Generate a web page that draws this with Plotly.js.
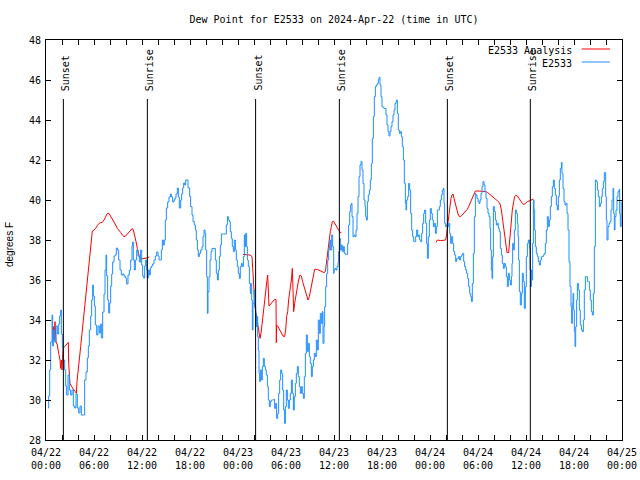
<!DOCTYPE html>
<html>
<head>
<meta charset="utf-8">
<script src="https://cdn.plot.ly/plotly-3.0.1.min.js"></script>
<style>html,body{margin:0;padding:0;background:#fff;}#chart{width:640px;height:480px;}</style>
</head>
<body>
<div id="chart"></div>
<script>
// ---- data (hours after 2024-04-22 00:00 UTC, dew point in degrees F) ----
const obsHours = [0.25,0.333,0.458,0.583,0.75,0.833,0.917,1.083,1.25,1.417,1.583,1.708,1.833,1.917,2.042,2.167,2.333,2.458,2.583,2.75,2.917,3.083,3.25,3.417,3.583,3.75,3.917,4.083,4.25,4.417,4.75,4.833,5.0,5.167,5.292,5.417,5.583,5.708,5.833,5.917,6.042,6.167,6.333,6.5,6.667,6.833,6.917,7.083,7.25,7.375,7.5,7.583,7.708,7.833,7.958,8.083,8.208,8.333,8.5,8.667,8.792,8.917,9.083,9.25,9.417,9.583,9.75,9.917,10.083,10.25,10.417,10.583,10.75,10.833,10.917,11.042,11.167,11.333,11.5,11.667,11.833,11.958,12.083,12.208,12.333,12.458,12.583,12.667,12.792,12.917,13.042,13.167,13.333,13.5,13.667,13.833,14.0,14.125,14.292,14.417,14.542,14.667,14.792,14.917,15.042,15.208,15.375,15.542,15.667,15.833,16.0,16.125,16.25,16.417,16.542,16.667,16.833,16.958,17.083,17.208,17.333,17.458,17.625,17.75,
17.96,18.08,18.25,18.375,18.54,18.67,18.79,18.92,19.04,19.17,19.33,19.5,19.625,19.75,19.875,19.96,20.08,20.17,20.25,20.375,20.5,20.625,20.75,21.0,21.17,21.29,21.42,21.54,21.67,21.79,21.92,22.17,22.42,22.54,22.67,22.79,22.92,23.04,23.17,23.29,23.42,23.54,23.67,23.79,23.92,24.04,24.17,24.29,24.42,24.54,24.67,24.79,24.875,24.96,25.08,25.17,25.29,25.42,25.54,25.625,25.71,25.79,25.875,26.0,26.08,26.21,26.29,26.375,26.46,26.54,26.625,26.71,26.79,26.92,27.04,27.17,27.29,27.42,27.54,27.67,27.79,27.92,28.04,28.17,28.33,28.46,28.58,28.71,28.83,28.96,29.08,29.21,29.33,29.46,29.58,29.71,29.83,29.92,30.04,30.17,30.29,30.42,30.54,30.67,30.79,30.92,31.04,31.17,31.29,31.42,31.54,31.67,31.79,31.92,32.04,32.17,32.29,32.42,32.54,32.67,32.79,32.92,33.04,33.17,33.29,33.42,33.54,33.67,33.79,33.92,34.04,34.17,34.29,34.42,34.54,34.625,34.75,34.83,34.96,35.08,35.21,35.33,35.46,35.58,35.71,35.83,35.96,
36.0,36.125,36.25,36.375,36.5,36.58,36.71,36.79,36.92,37.04,37.17,37.29,37.42,37.58,37.71,37.83,37.96,38.08,38.17,38.25,38.375,38.5,38.625,38.75,38.875,39.0,39.125,39.25,39.375,39.5,39.625,39.75,39.875,39.96,40.04,40.17,40.29,40.42,40.54,40.67,40.79,40.92,41.04,41.17,41.29,41.42,41.54,41.625,41.75,41.875,42.0,42.125,42.25,42.375,42.5,42.625,42.75,42.875,43.0,43.125,43.25,43.375,43.5,43.625,43.75,43.83,43.92,44.04,44.17,44.29,44.42,44.54,44.67,44.79,44.92,45.0,45.08,45.21,45.33,45.46,45.58,45.71,45.83,45.96,46.08,46.21,46.33,46.46,46.58,46.71,46.83,46.96,47.08,47.21,47.33,47.46,47.58,47.67,47.79,47.92,48.04,48.17,48.29,48.42,48.54,48.67,48.79,48.92,49.04,49.17,49.29,49.42,49.54,49.67,49.75,49.83,49.96,50.08,50.21,50.33,50.46,50.58,50.71,50.83,50.96,51.08,51.21,51.33,51.46,51.58,51.71,51.83,51.96,52.08,52.21,52.33,52.46,52.58,52.71,52.83,52.96,53.08,53.17,53.29,53.42,53.54,53.67,
53.75,53.875,54.0,54.125,54.25,54.375,54.5,54.625,54.75,54.875,55.0,55.125,55.25,55.375,55.5,55.58,55.67,55.75,55.83,55.92,56.04,56.17,56.29,56.42,56.54,56.67,56.79,56.92,57.04,57.17,57.29,57.42,57.54,57.67,57.79,57.92,58.04,58.17,58.25,58.33,58.46,58.54,58.67,58.79,58.92,59.0,59.08,59.17,59.29,59.42,59.54,59.67,59.79,59.92,60.04,60.17,60.29,60.42,60.5,60.58,60.67,60.75,60.83,60.92,61.0,61.08,61.17,61.29,61.42,61.54,61.67,61.79,61.92,62.04,62.17,62.29,62.42,62.54,62.67,62.79,62.92,63.04,63.17,63.29,63.42,63.54,63.67,63.79,63.92,64.04,64.17,64.29,64.42,64.5,64.625,64.75,64.875,65.0,65.125,65.25,65.375,65.5,65.625,65.71,65.79,65.875,65.96,66.04,66.125,66.21,66.33,66.42,66.54,66.67,66.79,66.92,67.04,67.17,67.29,67.42,67.54,67.67,67.79,67.92,68.04,68.17,68.29,68.42,68.54,68.67,68.79,68.92,69.04,69.17,69.29,69.42,69.54,69.67,69.79,69.88,69.96,70.04,70.125,70.25,70.375,70.5,70.625,70.75,70.875,70.96,71.04,71.125,71.25,71.375,71.5,71.625,71.71,71.79,71.9];
const obsDewF = [29.6,30.2,31.5,32.9,34.25,32.7,33.5,32.9,33.7,33.3,33.8,34.2,34.5,33.3,32.6,32.0,31.5,30.7,30.25,31.25,30.5,30.25,30.5,29.7,29.6,30.3,29.6,29.35,29.7,29.25,29.25,31.0,31.4,32.1,32.7,33.5,34.2,35.0,35.75,35.2,34.7,33.75,33.25,33.7,33.35,33.8,33.1,34.4,35.3,36.5,37.25,36.2,35.0,34.35,34.85,35.7,36.3,36.9,37.2,37.25,37.6,37.5,37.0,36.5,36.25,36.3,36.2,36.1,35.8,36.25,36.5,37.0,37.7,37.9,37.0,36.5,37.0,37.5,37.2,36.9,37.5,36.75,36.2,36.1,36.7,37.0,36.5,36.1,36.5,36.25,36.6,36.7,36.8,37.0,37.2,37.4,37.2,37.0,37.0,37.5,38.0,37.75,38.0,39.0,39.6,39.9,40.15,40.3,40.15,39.9,40.0,40.1,40.3,40.6,40.15,39.6,40.0,40.3,40.6,40.85,40.75,41.0,41.0,40.6,
40.17,39.67,39.25,38.92,38.75,38.5,38.0,37.5,37.17,37.33,37.5,37.67,38.17,38.5,38.33,37.5,36.17,34.33,35.42,36.17,37.0,37.42,37.58,37.58,37.0,36.33,36.0,36.5,37.17,37.75,38.3,38.3,38.3,38.75,39.17,39.0,38.92,38.42,38.08,37.67,37.42,38.0,37.5,37.0,36.67,36.33,36.08,36.67,36.83,36.67,37.17,38.25,37.67,38.33,37.67,37.0,36.67,35.83,35.33,35.83,35.0,33.5,34.83,35.5,34.67,34.33,33.67,34.17,33.17,32.5,31.33,30.92,31.5,31.0,31.67,32.08,31.67,31.5,31.25,30.67,30.0,29.67,29.92,30.0,30.0,30.03,29.58,29.83,29.08,29.33,30.33,31.0,31.5,31.33,30.5,29.5,28.83,29.67,30.5,30.0,29.58,30.0,30.33,31.0,30.33,29.5,30.17,30.83,31.33,31.67,31.17,30.67,30.33,30.67,30.33,30.08,31.17,32.33,33.25,32.42,32.83,32.17,31.83,31.17,31.67,32.0,32.33,32.17,33.0,32.5,34.0,33.33,34.33,33.83,34.42,32.83,33.67,34.67,35.67,36.33,37.0,37.5,38.0,37.5,38.25,37.67,36.33,
36.5,36.58,36.5,36.67,36.87,37.42,38.08,37.5,37.75,37.42,37.67,37.33,37.28,37.28,37.83,38.75,39.42,39.75,39.83,39.17,38.17,38.25,38.17,38.5,39.33,40.17,41.17,41.75,41.92,41.5,40.83,40.0,39.67,39.17,39.0,39.92,40.25,40.5,41.0,41.83,43.08,44.17,45.17,45.67,45.75,45.83,46.0,46.13,45.75,45.17,44.67,44.62,44.58,44.58,44.25,43.75,43.42,43.2,43.42,43.67,43.92,44.25,44.5,44.83,44.92,45.0,44.33,43.5,43.33,43.42,43.17,42.67,42.0,40.83,39.83,39.5,40.0,40.17,40.83,40.5,39.33,38.5,38.17,37.92,37.92,38.17,38.5,38.17,38.25,38.0,37.92,38.33,38.83,39.33,39.5,38.83,37.83,37.08,38.17,39.0,39.58,39.33,39.0,38.67,38.83,38.33,38.67,39.5,39.5,39.67,40.0,40.25,40.5,40.58,39.83,38.83,38.67,38.75,38.67,38.83,38.33,37.83,38.17,37.83,37.42,37.25,36.92,37.08,37.08,37.17,37.0,37.17,37.25,37.33,36.92,36.67,36.5,36.33,36.08,35.67,35.33,35.17,34.92,35.83,37.33,39.17,40.33,
40.25,40.08,39.92,39.83,40.0,40.33,40.67,40.92,40.75,40.42,40.08,39.58,39.33,39.17,38.58,37.5,36.5,36.08,37.17,39.67,39.42,39.0,38.75,38.83,38.58,38.42,37.58,37.25,36.83,36.58,36.83,36.67,36.17,35.67,36.33,36.0,35.75,36.17,36.83,37.83,37.5,38.5,39.5,39.33,38.83,38.17,37.0,35.42,34.75,35.33,36.33,35.92,34.58,35.67,37.17,37.83,38.0,37.58,36.5,35.67,36.5,36.0,37.83,40.0,39.5,38.5,37.67,37.33,37.17,36.92,36.75,37.0,37.17,37.17,37.25,37.33,37.83,38.5,39.17,38.67,39.0,39.67,40.17,40.67,41.0,40.58,40.25,39.75,39.5,40.17,41.0,41.58,41.88,41.33,40.58,39.92,39.75,39.83,39.33,38.5,36.92,35.67,34.67,33.83,34.83,35.33,34.5,33.42,32.67,33.67,35.0,35.83,35.5,34.5,33.75,33.5,33.42,34.0,35.5,36.17,36.17,35.92,35.92,35.5,35.0,34.42,34.25,35.33,37.67,41.0,40.92,40.5,40.17,39.67,39.83,40.17,40.58,40.92,41.37,41.37,40.17,39.0,38.0,38.67,38.83,38.92,39.5,40.0,40.58,39.33,38.5,39.17,39.5,40.17,40.42,40.53,39.33,38.67,39.92];

const anaHours = [0.833,0.917,1.0,1.125,1.25,1.417,1.583,1.75,1.833,1.917,2.0,2.125,2.333,2.5,2.667,2.792,2.833,2.917,3.0,3.167,3.333,3.5,3.667,3.792,3.875,4.0,4.167,4.333,4.5,4.667,4.833,4.917,5.042,5.167,5.292,5.417,5.542,5.667,5.792,6.0,6.208,6.417,6.625,6.833,7.042,7.25,7.458,7.667,7.875,8.083,8.292,8.5,8.708,8.917,9.125,9.333,9.542,9.75,9.958,10.167,10.375,10.583,10.792,10.917,11.083,11.25,11.417,11.583,11.708,11.917,12.25,12.583,12.917,
null,
24.625,25.04,25.5,25.75,25.875,26.0,26.125,26.25,26.375,26.5,26.625,26.75,26.875,27.0,27.125,27.25,27.375,27.5,27.625,27.71,27.79,27.875,28.08,28.33,28.58,28.75,28.79,28.83,29.0,29.21,29.42,29.625,29.83,29.96,30.08,30.21,30.33,30.46,30.58,30.67,30.79,30.875,30.96,31.08,31.21,31.33,31.46,31.58,31.75,31.92,32.08,32.25,32.42,32.58,32.75,32.92,33.08,33.25,33.42,33.58,33.92,34.21,34.5,34.75,34.92,35.04,35.17,35.29,35.42,35.54,35.67,35.79,35.92,36.08,36.25,36.42,36.58,36.75,36.92,
null,
48.75,48.92,49.33,49.75,49.96,50.08,50.17,50.25,50.375,50.5,50.625,50.75,50.875,51.0,51.125,51.25,51.375,51.5,51.67,51.83,52.0,52.17,52.33,52.5,52.67,52.83,53.0,53.17,53.33,53.5,53.67,54.0,54.58,55.0,55.21,55.42,55.625,55.83,56.04,56.25,56.46,56.67,56.79,56.92,57.0,57.08,57.21,57.29,57.42,57.54,57.625,57.83,57.92,58.04,58.17,58.29,58.46,58.58,58.71,58.92,59.125,59.33,59.54,59.75,59.96,60.17,60.375,60.58,60.79,60.92];
const anaDewF = [33.4,33.67,33.0,33.92,32.92,32.75,32.33,32.0,31.58,32.0,31.5,32.58,32.67,32.75,32.83,32.88,31.83,31.33,30.83,30.7,30.58,30.5,30.42,30.33,30.92,31.33,32.0,32.67,33.33,34.0,34.58,35.17,35.67,36.25,36.75,37.17,37.75,38.17,38.45,38.5,38.58,38.72,38.83,38.87,38.88,39.0,39.17,39.33,39.33,39.2,39.03,38.87,38.75,38.58,38.5,38.38,38.25,38.17,38.2,38.3,38.42,38.5,38.58,38.5,38.25,37.92,37.58,37.33,37.12,37.05,37.07,37.1,37.15,
null,
37.28,37.25,37.25,37.17,36.17,35.0,34.67,34.33,34.0,33.83,33.5,33.08,33.33,33.83,34.33,34.67,35.17,35.58,36.0,36.25,35.58,34.7,34.8,34.92,35.03,35.03,32.87,33.75,33.67,33.5,33.33,33.2,33.17,33.5,34.17,34.42,35.0,35.33,35.58,36.0,36.58,35.33,34.42,34.83,35.17,35.33,35.67,36.0,36.25,36.2,35.92,35.67,35.42,35.17,35.0,35.17,35.5,35.83,36.25,36.53,36.53,36.47,36.42,36.37,36.42,36.83,37.33,37.83,38.17,38.42,38.67,38.92,38.95,38.83,38.7,38.58,38.53,38.38,38.38,
null,
37.87,38.0,37.97,38.0,38.0,38.33,38.67,39.0,39.42,39.83,40.08,40.25,40.3,40.08,39.92,39.75,39.5,39.3,39.17,39.17,39.25,39.33,39.42,39.5,39.53,39.67,39.83,40.0,40.2,40.37,40.45,40.45,40.45,40.42,40.37,40.3,40.25,40.2,40.12,40.03,39.95,39.87,39.75,39.5,39.25,39.0,38.67,38.42,38.08,37.75,37.37,37.37,37.83,38.42,39.0,39.5,39.92,40.17,40.23,40.2,40.08,39.95,39.83,39.77,39.87,39.92,39.95,40.0,40.05,40.05];

const eventHours  = [2.17, 12.67, 26.2, 36.67, 50.17, 60.54];
const eventLabels = ['Sunset','Sunrise','Sunset','Sunrise','Sunset','Sunrise'];

const seriesNames = ['E2533 Analysis', 'E2533'];
const seriesColors = ['#ff0000', '#1e8fff'];
const titleText = 'Dew Point for E2533 on 2024-Apr-22 (time in UTC)';
const yTitle = 'degrees F';

// ---- helpers ----
const BASE = Date.UTC(2024, 3, 22, 0, 0, 0);
function toTime(h) {
  if (h === null) return null;
  const d = new Date(BASE + Math.round(h * 3600000));
  return d.toISOString().slice(0, 19).replace('T', ' ');
}

const MONO = 'DejaVu Sans Mono, Liberation Mono, monospace';
const black = '#000000';

const traces = [
  {
    x: anaHours.map(toTime), y: anaDewF, type: 'scatter', mode: 'lines',
    name: seriesNames[0], line: {color: seriesColors[0], width: 1}, connectgaps: false
  },
  {
    x: obsHours.map(toTime), y: obsDewF, type: 'scatter', mode: 'lines',
    name: seriesNames[1], line: {color: seriesColors[1], width: 1, shape: 'hv'}
  }
];

const shapes = [];
const annotations = [];
eventHours.forEach((h, i) => {
  shapes.push({type: 'line', xref: 'x', yref: 'y', x0: toTime(h), x1: toTime(h), y0: 28, y1: 45.05,
               line: {color: black, width: 1}});
  annotations.push({xref: 'x', yref: 'y', x: toTime(h), y: 45.4, text: eventLabels[i], textangle: -90,
                    showarrow: false, xanchor: 'center', yanchor: 'bottom', xshift: 2, yshift: -1,
                    font: {family: MONO, size: 10, color: black}});
});

// legend drawn manually (gnuplot style: text right-aligned, sample line to the right)
const legY = [0.9775, 0.945];
seriesNames.forEach((n, i) => {
  annotations.push({xref: 'paper', yref: 'paper', x: 0.9167, y: legY[i], text: n, showarrow: false,
                    xanchor: 'right', yanchor: 'middle', yshift: -1.5, font: {family: MONO, size: 10, color: black}});
  shapes.push({type: 'line', xref: 'paper', yref: 'paper', x0: 0.930, x1: 0.979, y0: legY[i], y1: legY[i],
               line: {color: seriesColors[i], width: 1}});
});

annotations.push({xref: 'paper', yref: 'paper', x: -0.0625, y: 0.4875, text: yTitle, textangle: -90,
                  showarrow: false, xanchor: 'center', yanchor: 'middle',
                  font: {family: 'Liberation Sans, Arial, sans-serif', size: 10, color: black}});

const layout = {
  width: 640, height: 480,
  margin: {l: 46, r: 18, t: 40, b: 40, pad: 0},
  paper_bgcolor: '#ffffff', plot_bgcolor: '#ffffff',
  showlegend: false,
  title: {text: titleText, font: {family: MONO, size: 10, color: black},
          x: 0.5, xref: 'paper', xanchor: 'center', y: 1 - 19 / 480, yref: 'container', yanchor: 'middle'},
  xaxis: {
    type: 'date', range: [toTime(0), toTime(72)],
    tickmode: 'linear', tick0: toTime(0), dtick: 6 * 3600000,
    tickformat: '%m/%d<br>%H:%M',
    ticks: 'inside', ticklen: 5, tickwidth: 1, tickcolor: black,
    ticklabelstandoff: 3,
    minor: {dtick: 2 * 3600000, ticks: 'inside', ticklen: 5, tickwidth: 1, tickcolor: black, showgrid: false},
    showline: true, linecolor: black, linewidth: 1, mirror: 'ticks',
    showgrid: false, zeroline: false,
    tickfont: {family: MONO, size: 10, color: black}
  },
  yaxis: {
    range: [28, 48], tickmode: 'linear', tick0: 28, dtick: 2,
    ticks: 'inside', ticklen: 5, tickwidth: 1, tickcolor: black,
    ticklabelstandoff: 2,
    showline: true, linecolor: black, linewidth: 1, mirror: 'ticks',
    showgrid: false, zeroline: false,
    tickfont: {family: MONO, size: 10, color: black}
  },
  shapes: shapes,
  annotations: annotations
};

Plotly.newPlot('chart', traces, layout, {staticPlot: true, displayModeBar: false});
</script>
</body>
</html>
